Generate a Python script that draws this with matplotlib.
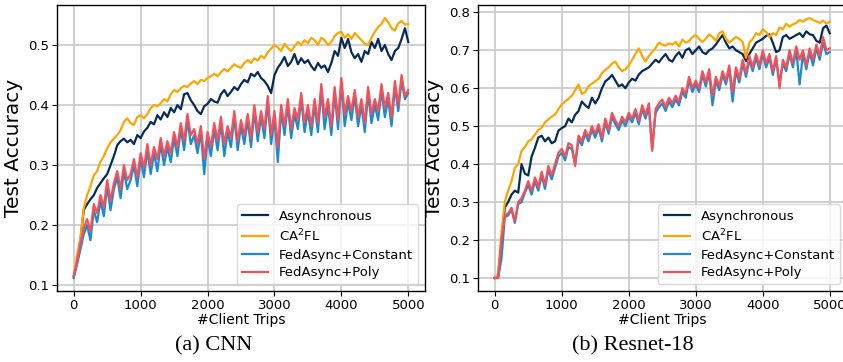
import numpy as np
import matplotlib
matplotlib.use("Agg")
import matplotlib.pyplot as plt

LABELS = ["Asynchronous", "CA$^2$FL", "FedAsync+Constant", "FedAsync+Poly"]
COLORS = ["#062c55", "#ffa500", "#1b8ad1", "#f74f57"]
MAX_TRIPS = 5000

cnn_async = [0.115, 0.14, 0.175, 0.225, 0.235, 0.243, 0.25, 0.262, 0.27, 0.278, 0.285, 0.30, 0.315, 0.333, 0.34, 0.344, 0.338, 0.342, 0.335, 0.35,
             0.345, 0.356, 0.362, 0.372, 0.368, 0.383, 0.376, 0.388, 0.38, 0.395, 0.388, 0.40, 0.393, 0.418, 0.42, 0.408, 0.40, 0.39, 0.385, 0.398,
             0.402, 0.41, 0.406, 0.404, 0.418, 0.425, 0.415, 0.422, 0.43, 0.425, 0.435, 0.442, 0.438, 0.452, 0.448, 0.455, 0.445, 0.44, 0.432, 0.42,
             0.45, 0.462, 0.47, 0.48, 0.465, 0.472, 0.485, 0.468, 0.478, 0.47, 0.475, 0.465, 0.458, 0.47, 0.462, 0.466, 0.455, 0.47, 0.49, 0.482,
             0.512, 0.495, 0.51, 0.488, 0.478, 0.485, 0.472, 0.49, 0.485, 0.505, 0.495, 0.51, 0.49, 0.50, 0.485, 0.475, 0.49, 0.495, 0.51, 0.528,
             0.505]
cnn_ca2fl = [0.115, 0.15, 0.178, 0.228, 0.25, 0.265, 0.283, 0.29, 0.306, 0.315, 0.328, 0.338, 0.344, 0.35, 0.358, 0.372, 0.378, 0.37, 0.367, 0.38,
             0.383, 0.378, 0.385, 0.395, 0.40, 0.398, 0.403, 0.41, 0.406, 0.418, 0.425, 0.422, 0.428, 0.432, 0.43, 0.436, 0.44, 0.435, 0.442, 0.44,
             0.445, 0.448, 0.452, 0.448, 0.455, 0.46, 0.456, 0.462, 0.468, 0.464, 0.462, 0.47, 0.475, 0.47, 0.478, 0.474, 0.482, 0.478, 0.488, 0.494,
             0.50, 0.496, 0.49, 0.502, 0.495, 0.49, 0.498, 0.505, 0.50, 0.508, 0.503, 0.512, 0.508, 0.50, 0.512, 0.508, 0.50, 0.505, 0.515, 0.52,
             0.522, 0.512, 0.518, 0.51, 0.52, 0.514, 0.508, 0.502, 0.50, 0.512, 0.522, 0.53, 0.535, 0.545, 0.538, 0.528, 0.524, 0.536, 0.54, 0.534,
             0.535]
cnn_const = [0.112, 0.135, 0.16, 0.185, 0.20, 0.175, 0.225, 0.205, 0.24, 0.215, 0.265, 0.225, 0.26, 0.28, 0.245, 0.29, 0.26, 0.275, 0.30, 0.265,
             0.31, 0.28, 0.325, 0.285, 0.32, 0.29, 0.335, 0.30, 0.33, 0.305, 0.345, 0.315, 0.36, 0.325, 0.375, 0.335, 0.35, 0.32, 0.355, 0.285,
             0.345, 0.315, 0.36, 0.325, 0.37, 0.315, 0.355, 0.33, 0.38, 0.325, 0.365, 0.335, 0.375, 0.33, 0.39, 0.34, 0.38, 0.345, 0.405, 0.335,
             0.38, 0.305, 0.39, 0.35, 0.40, 0.345, 0.385, 0.36, 0.41, 0.355, 0.39, 0.35, 0.40, 0.355, 0.425, 0.36, 0.40, 0.35, 0.42, 0.36,
             0.435, 0.365, 0.405, 0.375, 0.415, 0.365, 0.40, 0.355, 0.42, 0.37, 0.40, 0.375, 0.425, 0.38, 0.41, 0.365, 0.43, 0.39, 0.44, 0.41,
             0.42]
cnn_poly = [0.115, 0.14, 0.17, 0.195, 0.21, 0.19, 0.235, 0.22, 0.25, 0.23, 0.275, 0.24, 0.27, 0.29, 0.26, 0.30, 0.275, 0.285, 0.31, 0.28,
            0.32, 0.295, 0.335, 0.30, 0.33, 0.31, 0.345, 0.315, 0.34, 0.32, 0.355, 0.33, 0.37, 0.34, 0.385, 0.35, 0.36, 0.335, 0.365, 0.31,
            0.355, 0.33, 0.37, 0.34, 0.38, 0.335, 0.365, 0.345, 0.39, 0.34, 0.375, 0.35, 0.385, 0.345, 0.40, 0.355, 0.39, 0.36, 0.415, 0.35,
            0.39, 0.33, 0.40, 0.365, 0.41, 0.36, 0.395, 0.375, 0.42, 0.37, 0.40, 0.365, 0.41, 0.37, 0.435, 0.38, 0.41, 0.365, 0.43, 0.375,
            0.445, 0.385, 0.415, 0.39, 0.425, 0.38, 0.41, 0.37, 0.43, 0.385, 0.41, 0.39, 0.435, 0.395, 0.42, 0.38, 0.44, 0.40, 0.45, 0.415,
            0.425]

res_async = [0.10, 0.105, 0.19, 0.286, 0.30, 0.32, 0.33, 0.325, 0.40, 0.375, 0.37, 0.42, 0.443, 0.47, 0.475, 0.46, 0.47, 0.455, 0.46, 0.488,
             0.495, 0.50, 0.52, 0.51, 0.53, 0.54, 0.565, 0.555, 0.548, 0.575, 0.56, 0.575, 0.60, 0.618, 0.625, 0.635, 0.62, 0.605, 0.61, 0.60,
             0.615, 0.625, 0.62, 0.636, 0.645, 0.65, 0.655, 0.665, 0.675, 0.668, 0.68, 0.69, 0.675, 0.67, 0.685, 0.695, 0.68, 0.70, 0.705, 0.69,
             0.70, 0.71, 0.695, 0.69, 0.70, 0.705, 0.715, 0.728, 0.74, 0.72, 0.705, 0.71, 0.70, 0.695, 0.69, 0.672, 0.69, 0.705, 0.72, 0.725,
             0.73, 0.738, 0.742, 0.72, 0.695, 0.70, 0.735, 0.74, 0.73, 0.735, 0.74, 0.745, 0.735, 0.75, 0.742, 0.74, 0.725, 0.72, 0.758, 0.765,
             0.745]
res_ca2fl = [0.10, 0.11, 0.22, 0.30, 0.33, 0.355, 0.39, 0.40, 0.435, 0.445, 0.46, 0.465, 0.478, 0.49, 0.496, 0.51, 0.518, 0.525, 0.53, 0.545,
             0.557, 0.565, 0.572, 0.58, 0.595, 0.61, 0.585, 0.59, 0.605, 0.612, 0.618, 0.625, 0.64, 0.648, 0.655, 0.665, 0.67, 0.655, 0.645, 0.65,
             0.66, 0.675, 0.69, 0.705, 0.685, 0.67, 0.685, 0.695, 0.706, 0.72, 0.715, 0.712, 0.718, 0.715, 0.722, 0.71, 0.728, 0.72, 0.724, 0.735,
             0.74, 0.73, 0.722, 0.73, 0.742, 0.735, 0.725, 0.745, 0.75, 0.73, 0.72, 0.728, 0.735, 0.73, 0.722, 0.68, 0.72, 0.73, 0.745, 0.74,
             0.755, 0.748, 0.735, 0.745, 0.74, 0.76, 0.755, 0.77, 0.762, 0.768, 0.772, 0.78, 0.775, 0.782, 0.785, 0.78, 0.776, 0.772, 0.778, 0.77,
             0.775]
res_const = [0.10, 0.10, 0.15, 0.26, 0.265, 0.28, 0.245, 0.295, 0.30, 0.325, 0.345, 0.32, 0.355, 0.33, 0.37, 0.335, 0.385, 0.36, 0.39, 0.42,
             0.43, 0.41, 0.445, 0.44, 0.40, 0.465, 0.45, 0.48, 0.46, 0.49, 0.47, 0.495, 0.46, 0.51, 0.48, 0.525, 0.505, 0.49, 0.515, 0.50,
             0.525, 0.51, 0.535, 0.505, 0.545, 0.52, 0.55, 0.44, 0.535, 0.55, 0.56, 0.54, 0.565, 0.55, 0.57, 0.555, 0.59, 0.575, 0.62, 0.59,
             0.61, 0.59, 0.635, 0.605, 0.64, 0.555, 0.62, 0.595, 0.635, 0.61, 0.65, 0.565, 0.645, 0.615, 0.665, 0.63, 0.675, 0.645, 0.68, 0.65,
             0.69, 0.655, 0.68, 0.635, 0.675, 0.615, 0.665, 0.645, 0.69, 0.655, 0.70, 0.61, 0.69, 0.65, 0.695, 0.66, 0.705, 0.675, 0.72, 0.69,
             0.695]
res_poly = [0.10, 0.10, 0.20, 0.265, 0.27, 0.285, 0.25, 0.30, 0.31, 0.33, 0.355, 0.33, 0.365, 0.34, 0.38, 0.345, 0.395, 0.37, 0.40, 0.43,
            0.44, 0.42, 0.455, 0.45, 0.395, 0.475, 0.46, 0.49, 0.47, 0.50, 0.48, 0.505, 0.47, 0.52, 0.49, 0.535, 0.515, 0.50, 0.525, 0.51,
            0.535, 0.52, 0.545, 0.515, 0.555, 0.53, 0.56, 0.435, 0.545, 0.56, 0.57, 0.55, 0.575, 0.56, 0.58, 0.565, 0.60, 0.585, 0.63, 0.60,
            0.62, 0.60, 0.645, 0.615, 0.65, 0.58, 0.63, 0.605, 0.645, 0.62, 0.66, 0.59, 0.655, 0.625, 0.675, 0.64, 0.685, 0.655, 0.69, 0.66,
            0.70, 0.665, 0.69, 0.645, 0.685, 0.60, 0.675, 0.655, 0.70, 0.665, 0.71, 0.675, 0.70, 0.66, 0.705, 0.675, 0.715, 0.685, 0.735, 0.70,
            0.705]

PANELS = [
    ("(a) CNN", [cnn_async, cnn_ca2fl, cnn_const, cnn_poly]),
    ("(b) Resnet-18", [res_async, res_ca2fl, res_const, res_poly]),
]

W, H = 843, 362
fig = plt.figure(figsize=(W / 100, H / 100), dpi=100)
rects = [
    [57 / W, 71 / H, 368 / W, 286 / H],
    [478 / W, 71 / H, 368.5 / W, 286 / H],
]
cap_x = [214 / W, 633 / W]

for i, (caption, series) in enumerate(PANELS):
    ax = fig.add_axes(rects[i])
    for vals, lab, col in zip(series, LABELS, COLORS):
        x = np.linspace(0, MAX_TRIPS, len(vals))
        ax.plot(x, vals, color=col, lw=1.6, label=lab)
    ax.set_xlim(-250, 5250)
    ax.set_xticks([0, 1000, 2000, 3000, 4000, 5000])
    ax.grid(True, color="#c8c8c8", lw=1.2)
    ax.set_axisbelow(True)
    ax.tick_params(labelsize=9.5, length=3.5, width=0.8, pad=2)
    for sp in ax.spines.values():
        sp.set_linewidth(1.0)
        sp.set_color("black")
    ax.set_xlabel("#Client Trips", fontsize=10, labelpad=1)
    ax.set_ylabel("Test Accuracy", fontsize=14.5, labelpad=4)
    ax.legend(loc="lower right", fontsize=9.5, handlelength=2.0, borderpad=0.4,
              labelspacing=0.35, framealpha=0.8, edgecolor="#d0d0d0")
    fig.text(cap_x[i], (H - 346) / H, caption, ha="center", va="center",
             fontsize=16, family="Liberation Serif")

fig.savefig("out.png", dpi=100)
